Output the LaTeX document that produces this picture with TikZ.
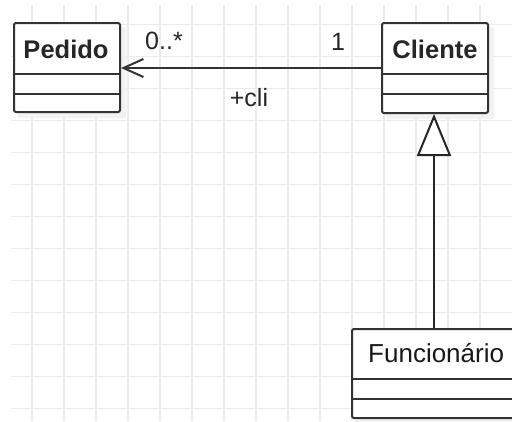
\documentclass[tikz,border=0pt]{standalone}
\usepackage{fontspec}
\setmainfont{Liberation Sans}
\usetikzlibrary{arrows.meta}
\begin{document}
\begin{tikzpicture}[x=1pt,y=-1pt,
  gridline/.style={draw=black!8,line width=1.3pt},
  shadowbox/.style={fill=black!5,draw=none,rounded corners=2pt},
  classbox/.style={draw=black!80,line width=2pt,fill=white,rounded corners=2pt,inner sep=0pt},
  divider/.style={draw=black!80,line width=2pt},
  title/.style={font=\fontsize{25.5}{29}\selectfont\bfseries,inner sep=0pt,text=black!85},
  ctitle/.style={font=\fontsize{26}{30}\selectfont,inner sep=0pt,text=black!90},
  lbl/.style={font=\fontsize{25}{29}\selectfont,inner sep=0pt,text=black!85},
  assoc/.style={draw=black!80,line width=2pt},
  gen/.style={draw=black!85,line width=2pt}]
\useasboundingbox (0,0) rectangle (512,421);
\clip (0,0) rectangle (512,421);
\fill[white] (0,0) rectangle (512,421);
% grid
\foreach \x in {32,64,...,511} \draw[gridline] (\x,5) -- (\x,421);
\foreach \y in {24.5,56.5,...,421} \draw[gridline] (11,\y) -- (512,\y);
% shadows
\fill[shadowbox] (18,27) rectangle (126,118);
\fill[shadowbox] (386,27) rectangle (494,119);
\fill[shadowbox] (355,332) rectangle (560,423);
% classes
\node[classbox,minimum width=106,minimum height=89] (pedido) at (67,67.5) {};
\node[title] (pedidoT) at (66,49) {Pedido};
\draw[divider] (14,74) -- (120,74);
\draw[divider] (14,94) -- (120,94);
\node[classbox,minimum width=106,minimum height=90] (cliente) at (435,68) {};
\node[title] (clienteT) at (435,49) {Cliente};
\draw[divider] (382,74) -- (488,74);
\draw[divider] (382,94) -- (488,94);
\node[classbox,minimum width=220,minimum height=89,anchor=north west] (func) at (351,328) {};
\node[ctitle,anchor=west] (funcT) at (368,353) {Funcionário};
\draw[divider] (351,379) -- (571,379);
\draw[divider] (351,399) -- (571,399);
% association
\draw[assoc,-{Straight Barb[length=20pt,width=18pt,line width=2pt]}] (cliente.west |- 0,68) -- (pedido.east |- 0,68);
\node[lbl] (m1) at (164,41) {0..*};
\node[lbl] (m2) at (338,42) {1};
\node[lbl] (role) at (249,98) {+cli};
% generalization
\draw[gen,-{Triangle[open,length=42pt,width=34pt,line width=2pt,fill=white]}] (func.north -| 434,0) -- (cliente.south -| 434,0);
\end{tikzpicture}
\end{document}
